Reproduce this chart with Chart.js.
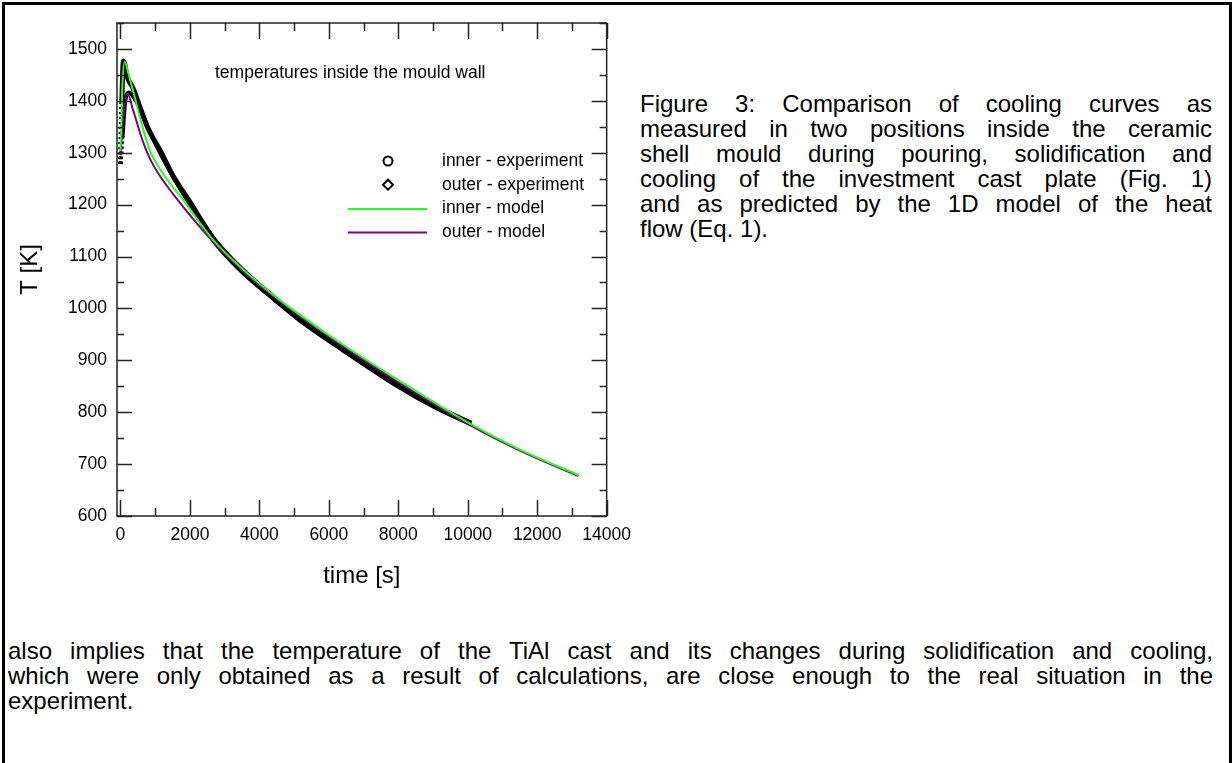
<!DOCTYPE html>
<html>
<head>
<meta charset="utf-8">
<script src="https://cdn.jsdelivr.net/npm/chart.js@4.4.0/dist/chart.umd.min.js"></script>
<style>
  html, body { margin: 0; padding: 0; background: #fff; }
  body { width: 1232px; height: 763px; position: relative; overflow: hidden; font-family: "Liberation Sans", Arial, sans-serif; color: #000; }
  #frame { position: absolute; left: 2px; top: 2px; width: 1224px; height: 800px; border: 3px solid #000; }
  #wrap { position: absolute; left: 0; top: 0; width: 640px; height: 600px; }
  .txt { position: absolute; font-size: 24px; line-height: 25px; }
  .txt div { text-align: justify; text-align-last: justify; white-space: nowrap; }
  .txt div.last { text-align: left; text-align-last: left; }
  #caption { left: 640px; top: 91px; width: 572px; }
  #para { left: 8px; top: 638px; width: 1205px; }
</style>
</head>
<body>
<div id="frame"></div>
<div id="wrap"><canvas id="coolChart" width="640" height="600"></canvas></div>
<div id="caption" class="txt"></div>
<div id="para" class="txt"></div>
<script>
// podaci ocitani sa slike: vreme [s] i temperatura [K]
const innerExpTime = [0, 40, 85, 200, 350, 550, 780, 1160, 1500, 1970, 2700, 3500, 4440, 5100, 5800, 6430, 7200, 8000, 9000, 9800, 10100];
const innerExpTemp = [1278, 1400, 1477, 1445, 1426, 1390, 1349, 1302, 1257, 1208, 1133, 1075, 1020, 984, 950, 921, 887, 852, 814, 788, 779];

const outerExpTime = [0, 60, 130, 240, 400, 600, 850, 1160, 1970, 2700, 3500, 4440, 5100, 6430, 8000, 9000, 10100];
const outerExpTemp = [1280, 1330, 1395, 1416, 1405, 1378, 1340, 1297, 1203, 1128, 1070, 1016, 980, 918, 849, 811, 776];

const innerModelTime = [0, 50, 114, 250, 400, 600, 850, 1250, 1750, 2680, 3500, 4440, 5140, 6430, 8000, 10090, 11500, 13190];
const innerModelTemp = [1304, 1420, 1476, 1447, 1410, 1358, 1304, 1257, 1214, 1131, 1077, 1024, 989, 929, 862, 777, 728, 679];

const outerModelTime = [0, 80, 210, 350, 640, 830, 1100, 1590, 2630, 3500, 4440, 5140, 6430, 8000, 10090, 11500, 13190];
const outerModelTemp = [1295, 1370, 1413, 1385, 1323, 1291, 1259, 1214, 1131, 1073, 1021, 986, 926, 858, 774, 726, 677];

const xTickVals = [0, 2000, 4000, 6000, 8000, 10000, 12000, 14000];
const yTickVals = [600, 700, 800, 900, 1000, 1100, 1200, 1300, 1400, 1500];

const seriesLabels = ["inner - experiment", "outer - experiment", "inner - model", "outer - model"];
const chartTitle = "temperatures inside the mould wall";

const captionLines = [
    "Figure 3: Comparison of cooling curves as",
    "measured in two positions inside the ceramic",
    "shell mould during pouring, solidification and",
    "cooling of the investment cast plate (Fig. 1)",
    "and as predicted by the 1D model of the heat",
    "flow (Eq. 1)."
];
const paraLines = [
    "also implies that the temperature of the TiAl cast and its changes during solidification and cooling,",
    "which were only obtained as a result of calculations, are close enough to the real situation in the",
    "experiment."
];

// tekst oko grafika
function fillLines(id, lines) {
    const box = document.getElementById(id);
    lines.forEach((line, i) => {
        const d = document.createElement("div");
        d.textContent = line;
        if (i === lines.length - 1) d.className = "last";
        box.appendChild(d);
    });
}
fillLines("caption", captionLines);
fillLines("para", paraLines);

const toPoints = (ts, vs) => ts.map((t, i) => ({ x: t, y: vs[i] }));
const riseDash = c => c.p0DataIndex === 0 ? [2, 3] : undefined;

const FONT = "Liberation Sans";

// okvir, unutrasnji podeoci, naslov i legenda unutar grafika
const framePlugin = {
    id: "framePlugin",
    afterDraw(chart) {
        const { ctx, chartArea: a, scales: { x, y } } = chart;
        ctx.save();
        ctx.strokeStyle = "#222";
        ctx.lineWidth = 1.5;
        ctx.strokeRect(a.left, a.top, a.right - a.left, a.bottom - a.top);
        ctx.beginPath();
        for (let t = 0; t <= 14000; t += 1000) {
            const px = Math.round(x.getPixelForValue(t)) + 0.5;
            const len = t % 2000 === 0 ? 16 : 8;
            ctx.moveTo(px, a.bottom); ctx.lineTo(px, a.bottom - len);
            ctx.moveTo(px, a.top); ctx.lineTo(px, a.top + len);
        }
        for (let v = 600; v <= 1550; v += 50) {
            const py = Math.round(y.getPixelForValue(v)) + 0.5;
            const len = v % 100 === 0 ? 15 : 7;
            ctx.moveTo(a.left, py); ctx.lineTo(a.left + len, py);
            ctx.moveTo(a.right, py); ctx.lineTo(a.right - len, py);
        }
        ctx.stroke();

        ctx.fillStyle = "#000";
        ctx.font = "17.5px '" + FONT + "'";
        ctx.textBaseline = "middle";
        ctx.textAlign = "left";
        ctx.fillText(chartTitle, a.left + 98, a.top + 50);

        chart.data.datasets.forEach((ds, i) => {
            const ry = a.top + 138 + i * 23.7;
            const sx = a.left + 271;
            ctx.strokeStyle = ds.borderColor;
            ctx.fillStyle = "#fff";
            ctx.lineWidth = 2;
            if (ds.legendMark === "circle") {
                ctx.beginPath();
                ctx.arc(sx, ry, 4.5, 0, Math.PI * 2);
                ctx.fill(); ctx.stroke();
            } else if (ds.legendMark === "diamond") {
                ctx.beginPath();
                ctx.moveTo(sx, ry - 5); ctx.lineTo(sx + 5, ry);
                ctx.lineTo(sx, ry + 5); ctx.lineTo(sx - 5, ry);
                ctx.closePath();
                ctx.fill(); ctx.stroke();
            } else {
                ctx.beginPath();
                ctx.moveTo(a.left + 231, ry + 0.5); ctx.lineTo(a.left + 310, ry + 0.5);
                ctx.stroke();
            }
            ctx.fillStyle = "#000";
            ctx.fillText(ds.label, a.left + 325, ry);
        });
        ctx.restore();
    }
};

const ctx = document.getElementById("coolChart").getContext("2d");
const coolChart = new Chart(ctx, {
    type: "line",
    data: {
        datasets: [
            {
                label: seriesLabels[0],
                data: toPoints(innerExpTime, innerExpTemp),
                borderColor: "#000000",
                borderWidth: 5,
                legendMark: "circle",
                order: 3,
                segment: { borderDash: riseDash }
            },
            {
                label: seriesLabels[1],
                data: toPoints(outerExpTime, outerExpTemp),
                borderColor: "#000000",
                borderWidth: 4,
                legendMark: "diamond",
                order: 4,
                segment: { borderDash: riseDash }
            },
            {
                label: seriesLabels[2],
                data: toPoints(innerModelTime, innerModelTemp),
                borderColor: "#22ff22",
                borderWidth: 2,
                legendMark: "line",
                order: 1
            },
            {
                label: seriesLabels[3],
                data: toPoints(outerModelTime, outerModelTemp),
                borderColor: "#800080",
                borderWidth: 2,
                legendMark: "line",
                order: 2
            }
        ]
    },
    options: {
        responsive: false,
        animation: false,
        devicePixelRatio: 1,
        layout: { padding: { top: 23, right: 30, left: 0, bottom: 0 } },
        elements: {
            point: { radius: 0 },
            line: { cubicInterpolationMode: "monotone", fill: false }
        },
        plugins: {
            legend: { display: false },
            tooltip: { enabled: false }
        },
        scales: {
            x: {
                type: "linear",
                min: -100,
                max: 14000,
                grid: { display: false, drawTicks: false },
                border: { display: false },
                afterBuildTicks: s => { s.ticks = xTickVals.map(v => ({ value: v })); },
                afterFit: s => { s.height = 84; },
                ticks: {
                    padding: 9,
                    maxRotation: 0,
                    color: "#000",
                    font: { family: FONT, size: 17.5 },
                    callback: v => String(v)
                },
                title: {
                    display: true,
                    text: "time [s]",
                    color: "#000",
                    font: { family: FONT, size: 24 },
                    padding: { top: 0, bottom: 9 }
                }
            },
            y: {
                min: 600,
                max: 1550,
                grid: { display: false, drawTicks: false },
                border: { display: false },
                afterBuildTicks: s => { s.ticks = yTickVals.map(v => ({ value: v })); },
                afterFit: s => { s.width = 117; },
                ticks: {
                    padding: 10,
                    color: "#000",
                    font: { family: FONT, size: 17.5 },
                    callback: v => String(v)
                },
                title: {
                    display: true,
                    text: "T [K]",
                    color: "#000",
                    font: { family: FONT, size: 24 },
                    padding: { top: 16, bottom: 0 }
                }
            }
        }
    },
    plugins: [framePlugin]
});
</script>
</body>
</html>
